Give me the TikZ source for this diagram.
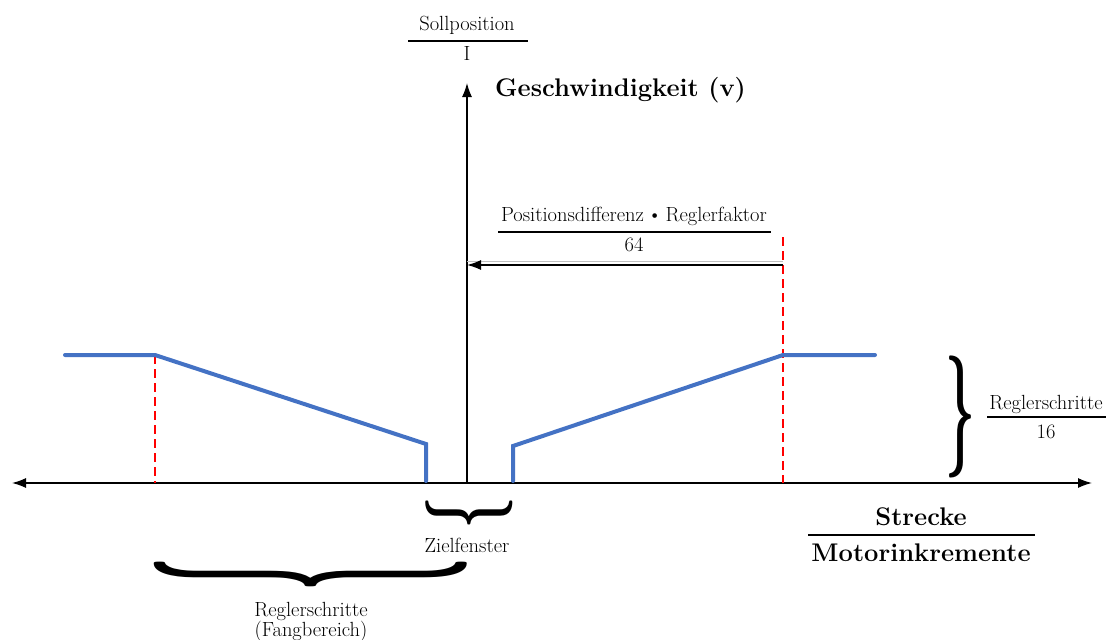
\documentclass[tikz,border=0pt]{standalone}
\usepackage{graphicx}
\usetikzlibrary{arrows.meta}
\definecolor{curveblue}{RGB}{68,114,196}
\definecolor{dashred}{RGB}{255,0,0}
\begin{document}
\begin{tikzpicture}[x=1pt,y=-1pt,
  txt/.style={font=\fontsize{20.5}{23}\selectfont, inner sep=0pt},
  big/.style={font=\fontsize{25.5}{29}\selectfont\bfseries, inner sep=0pt},
  axis/.style={line width=1.3pt},
  curve/.style={curveblue, line width=4pt, line cap=round, line join=miter},
  guide/.style={dashred, line width=2pt, dash pattern=on 9pt off 5pt},
  tipr/.style={-{Latex[length=14pt,width=10pt]}},
  bar/.style={line width=1.2pt},
  brace/.style={inner sep=0pt}]
\useasboundingbox (0,0) rectangle (1106,640);
% axes
\coordinate (xl) at (12,483);
\coordinate (xr) at (1092,483);
\coordinate (o) at (467,483);
\coordinate (yt) at (467,83);
\draw[axis,{Latex[length=14pt,width=10pt]}-{Latex[length=14pt,width=10pt]}] (xl) -- (xr);
\draw[axis,tipr] (o) -- (yt);
% curve points
\coordinate (l0) at (65,355);
\coordinate (l1) at (155,355);
\coordinate (l2) at (426,444);
\coordinate (l3) at (426,481);
\coordinate (r3) at (513,481);
\coordinate (r2) at (513,446);
\coordinate (r1) at (783,355);
\coordinate (r0) at (875,355);
% dashed guides
\coordinate (lb) at (155,483);
\coordinate (rt) at (783,237);
\coordinate (rb) at (783,483);
\draw[guide] (l1) -- (lb);
\draw[guide] (rt) -- (rb);
\draw[curve] (l0) -- (l1) -- (l2) -- (l3);
\draw[curve] (r3) -- (r2) -- (r1) -- (r0);
% difference arrow
\coordinate (da) at (783,265);
\coordinate (db) at (467,265);
\coordinate (ga) at (467,261);
\coordinate (gb) at (783,261);
\draw[black!25, line width=0.8pt] (ga) -- (gb);
\draw[axis,tipr] (da) -- (db);
% Sollposition / I
\node[txt] (soll) at (467,25) {Sollposition};
\draw[bar] (408,41) -- (528,41);
\node[txt] (solli) at (467,53) {I};
% Geschwindigkeit
\node[big, anchor=west] (gesch) at (495,90) {Geschwindigkeit (v)};
% Positionsdifferenz
\node[txt] (posd) at (634,216) {Positionsdifferenz\,\textbullet\,Reglerfaktor};
\draw[bar] (498,232) -- (771,232);
\node[txt] (posn) at (634,245) {64};
% right brace
\node[brace] (rbrace) at (960,417) {\resizebox*{30pt}{122pt}{\bfseries\}}};
\node[txt] (rs) at (1046,404) {Reglerschritte};
\draw[bar] (987,417) -- (1106,417);
\node[txt] (rs16) at (1046,432) {16};
% Zielfenster brace
\node[brace, rotate=-90] (zbrace) at (469.5,513) {\resizebox*{33pt}{87pt}{\bfseries\}}};
\node[txt] (ziel) at (467,545) {Zielfenster};
% Fangbereich brace
\node[brace, rotate=-90] (fbrace) at (311,574) {\resizebox*{34pt}{312pt}{\bfseries\}}};
\node[txt] (fang1) at (311,611) {Reglerschritte};
\node[txt] (fang2) at (311,631) {(Fangbereich)};
% Strecke / Motorinkremente
\node[big] (str) at (921,517) {Strecke};
\draw[line width=1.6pt] (808,535) -- (1035,535);
\node[big] (mot) at (921,553) {Motorinkremente};
\end{tikzpicture}
\end{document}
